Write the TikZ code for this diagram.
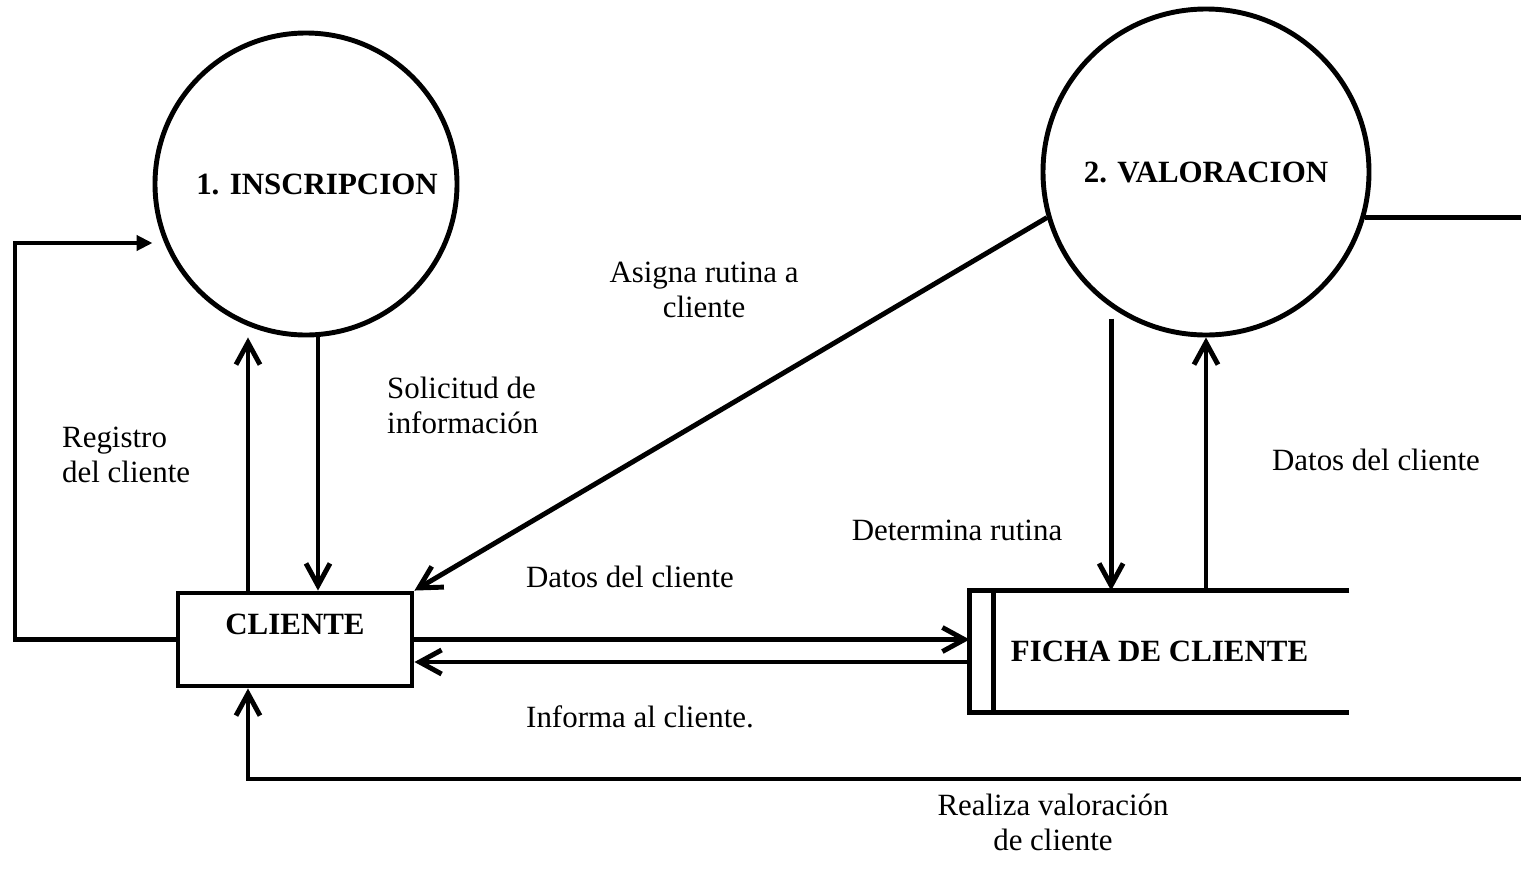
\documentclass[tikz,border=0pt]{standalone}
\usepackage{fontspec}
\setmainfont{Liberation Serif}
\usetikzlibrary{arrows.meta}

\begin{document}
\begin{tikzpicture}[line width=1.4pt, font=\fontsize{8.8}{10}\selectfont,
  >={Straight Barb[length=2.2mm,width=2.4mm]},
  proc/.style={draw, circle, inner sep=0pt, font=\fontsize{8.8}{10}\selectfont\bfseries},
  ent/.style={draw, rectangle, font=\fontsize{8.8}{10}\selectfont\bfseries}]
\useasboundingbox (0,0) rectangle (15.21,8.85);
\node[proc, minimum size=3.02cm] (ins) at (3.06,7.01) {\hspace*{0.22cm}1. INSCRIPCION};
\node[proc, minimum size=3.26cm] (val) at (12.06,7.13) {2. VALORACION};
\node[ent, minimum width=2.34cm, minimum height=0.93cm, text depth=0.3cm] (cli) at (2.95,2.455) {CLIENTE};
\node[minimum width=3.75cm, minimum height=1.17cm, font=\fontsize{8.8}{10}\selectfont\bfseries] (ficha) at (11.595,2.335) {FICHA DE CLIENTE};
\draw (ficha.north east) -- (ficha.north west) -- (ficha.south west) -- (ficha.south east);
\draw ([xshift=0.24cm]ficha.north west) -- ([xshift=0.24cm]ficha.south west);

\coordinate (loopL) at (0.15,6.42);
\coordinate (outR) at (15.21,6.66);
\coordinate (outB) at (15.21,1.06);

\draw[-{Triangle[length=1.6mm,width=1.5mm]}] (cli.west) -| (loopL) -- (ins.west |- loopL);
\draw[->] ([xshift=-0.47cm]cli.north) -- ([xshift=-0.47cm]cli.north |- ins.south);
\draw[->] ([xshift=0.23cm]cli.north |- ins.south) -- ([xshift=0.23cm]cli.north);
\draw[->] (val.196) -- (cli.north east);
\draw[->] (cli.east) -- (cli.east -| ficha.west);
\draw[->] ([yshift=-0.225cm]cli.east -| ficha.west) -- ([yshift=-0.225cm]cli.east);
\draw[->] ([yshift=-0.11cm]val.235) -- (val.235 |- ficha.north);
\draw[->] (val.south |- ficha.north) -- (val.south);
\draw (val.344) -- (val.344 -| outR);
\draw[->] (outB) -| ([xshift=-0.47cm]cli.south);

\node[align=left, anchor=west] (lblReg) at (0.48,4.30) {Registro\\del cliente};
\node[align=left, anchor=west] (lblSol) at (3.73,4.80) {Solicitud de\\información};
\node[align=center] (lblAsig) at (7.04,5.95) {Asigna rutina a\\cliente};
\node (lblDat1) at (6.30,3.08) {Datos del cliente};
\node (lblInf) at (6.40,1.68) {Informa al cliente.};
\node (lblDet) at (9.57,3.55) {Determina rutina};
\node (lblDat2) at (13.76,4.25) {Datos del cliente};
\node[align=center] (lblReal) at (10.53,0.63) {Realiza valoración\\de cliente};
\end{tikzpicture}
\end{document}
